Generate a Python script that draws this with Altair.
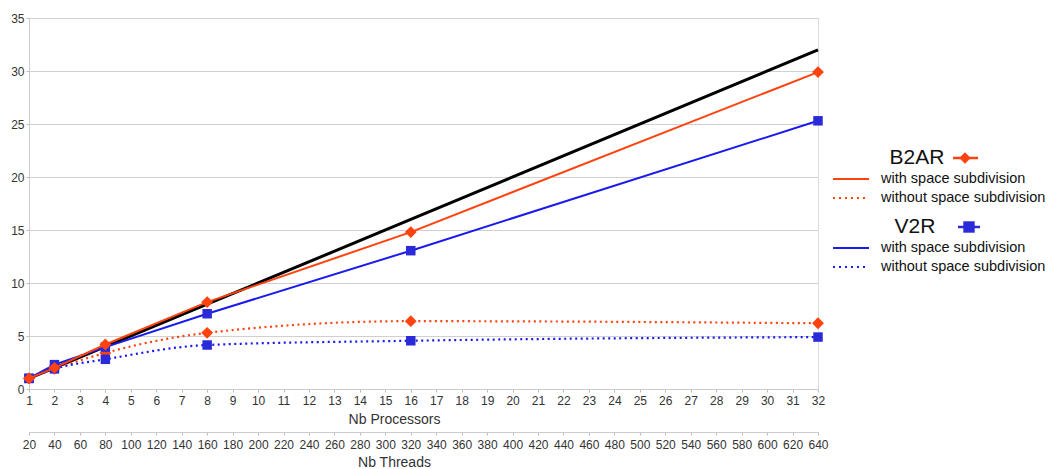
import altair as alt
import pandas as pd

# ---------------- data ----------------
procs = [1, 2, 4, 8, 16, 32]
ideal = [1, 2, 4, 8, 16, 32]
b2ar_with = [1.0, 2.0, 4.2, 8.2, 14.8, 29.9]
b2ar_without = [1.0, 1.9, 3.4, 5.3, 6.4, 6.2]
v2r_with = [1.0, 2.3, 3.95, 7.1, 13.05, 25.3]
v2r_without = [1.0, 1.9, 2.8, 4.15, 4.55, 4.9]

proc_ticks = list(range(1, 33))
thread_ticks = list(range(20, 641, 20))
y_ticks = [0, 5, 10, 15, 20, 25, 30, 35]

RED = "#ff420e"
BLUE = "#1a1aee"
BLUE_M = "#2a2ad8"
FONT = "Liberation Sans"

xscale = alt.Scale(domain=[1, 32], nice=False, zero=False)
yscale = alt.Scale(domain=[0, 35], nice=False)

x_axis = alt.Axis(values=proc_ticks, title="Nb Processors", grid=False, tickSize=3,
                  labelPadding=3, labelFontSize=12, labelColor="#333", titleFontSize=14,
                  titleFontWeight="normal", titleColor="#333", domainColor="#ccc",
                  tickColor="#bbb", titlePadding=6, labelFont=FONT, titleFont=FONT,
                  labelFlush=False, labelOverlap=False, titleX=365)
y_axis = alt.Axis(values=y_ticks, title=None, grid=True, gridColor="#d0d0d0", tickSize=3,
                  labelPadding=2, labelFontSize=12, labelColor="#333", domainColor="#ccc",
                  tickColor="#bbb", labelFont=FONT)


def series(vals, color, dashed, shape, size, mcolor):
    df = pd.DataFrame({"procs": procs, "v": vals})
    base = alt.Chart(df).encode(
        x=alt.X("procs:Q", scale=xscale, axis=x_axis),
        y=alt.Y("v:Q", scale=yscale, axis=y_axis),
    )
    if dashed:
        line = base.mark_line(color=color, strokeWidth=2.2, strokeDash=[2, 3.5],
                              interpolate="monotone")
    else:
        line = base.mark_line(color=color, strokeWidth=2)
    pts = base.mark_point(shape=shape, filled=True, size=size, color=mcolor, opacity=1)
    return line + pts


ideal_df = pd.DataFrame({"procs": procs, "v": ideal})
ideal_line = alt.Chart(ideal_df).mark_line(color="black", strokeWidth=3).encode(
    x=alt.X("procs:Q", scale=xscale, axis=x_axis),
    y=alt.Y("v:Q", scale=yscale, axis=y_axis),
)

main_marks = alt.layer(
    ideal_line,
    series(b2ar_without, RED, True, "diamond", 140, RED),
    series(v2r_without, BLUE, True, "square", 90, BLUE_M),
    series(v2r_with, BLUE, False, "square", 90, BLUE_M),
    series(b2ar_with, RED, False, "diamond", 140, RED),
)

threads_df = pd.DataFrame({"threads": thread_ticks})
threads_axis = alt.Chart(threads_df).mark_tick(opacity=0).encode(
    x=alt.X("threads:Q", scale=alt.Scale(domain=[20, 640], nice=False, zero=False),
            axis=alt.Axis(values=thread_ticks, orient="bottom", offset=43, title="Nb Threads",
                          grid=False, tickSize=3, labelPadding=4, labelFontSize=12,
                          labelColor="#333", titleFontSize=14, titleFontWeight="normal",
                          titleColor="#333", domainColor="#ccc", tickColor="#bbb",
                          titlePadding=5, labelFont=FONT, titleFont=FONT,
                          labelFlush=False, labelOverlap=False, titleX=365)),
)

main = alt.layer(main_marks, threads_axis).resolve_scale(x="independent").properties(
    width=789, height=371
)

# ---------------- legend panel ----------------
leg_titles = ["B2AR", "V2R"]
leg_title_x = [88, 86]
leg_title_row = [140, 209]
leg_labels = ["with space subdivision", "without space subdivision",
              "with space subdivision", "without space subdivision"]
leg_rows = [161, 180, 230, 249]
leg_colors = [RED, RED, BLUE, BLUE]
leg_dash = ["solid", "dot", "solid", "dot"]

lx = alt.Scale(domain=[0, 214], nice=False, zero=False)
ly = alt.Scale(domain=[0, 371], nice=False, reverse=True)

titles_df = pd.DataFrame({"t": leg_titles, "x": leg_title_x, "y": leg_title_row,
                          "x1": [124, 129], "x2": [149, 151], "mx": [136, 140],
                          "shape": ["diamond", "square"], "c": [RED, BLUE_M]})
items_df = pd.DataFrame({"t": leg_labels, "y": leg_rows, "c": leg_colors, "d": leg_dash,
                         "x1": [4] * 4, "x2": [40] * 4, "tx": [52] * 4})

lt = alt.Chart(titles_df)
li = alt.Chart(items_df)
X = lambda f: alt.X(f, scale=lx, axis=None)
Y = alt.Y("y:Q", scale=ly, axis=None)

legend = alt.layer(
    lt.mark_text(fontSize=21, font=FONT, color="#111", align="center", baseline="middle").encode(
        x=X("x:Q"), y=Y, text="t:N"),
    lt.mark_rule(strokeWidth=2.5).encode(
        x=X("x1:Q"), x2="x2:Q", y=Y, color=alt.Color("c:N", scale=None)),
    lt.mark_point(filled=True, size=130, opacity=1).encode(
        x=X("mx:Q"), y=Y, color=alt.Color("c:N", scale=None),
        shape=alt.Shape("shape:N", scale=None)),
    li.transform_filter("datum.d == 'solid'").mark_rule(strokeWidth=2).encode(
        x=X("x1:Q"), x2="x2:Q", y=Y, color=alt.Color("c:N", scale=None)),
    li.transform_filter("datum.d == 'dot'").mark_rule(strokeWidth=2, strokeDash=[2, 4]).encode(
        x=X("x1:Q"), x2="x2:Q", y=Y, color=alt.Color("c:N", scale=None)),
    li.mark_text(fontSize=14.5, font=FONT, color="#111", align="left", baseline="middle").encode(
        x=X("tx:Q"), y=Y, text="t:N"),
).properties(width=214, height=371, view=alt.ViewBackground(stroke=None))

chart = alt.hconcat(main, legend, spacing=0).properties(
    padding={"left": 2, "top": 3, "right": 0, "bottom": 0}
).configure_view(stroke="#ccc").configure(background="white")

chart.save("out.html", embed_options={"renderer": "svg", "actions": False})
